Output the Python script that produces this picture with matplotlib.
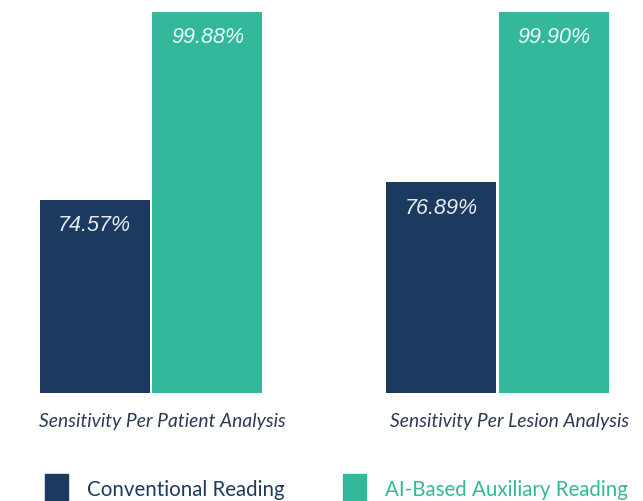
import numpy as np
import matplotlib.pyplot as plt
from matplotlib.patches import Rectangle

# data
categories = ['Sensitivity Per Patient Analysis', 'Sensitivity Per Lesion Analysis']
conventional = [74.57, 76.89]
ai_based = [99.88, 99.90]
series_names = ['Conventional Reading', 'AI-Based Auxiliary Reading']

navy = '#1c3a5f'
teal = '#34b89b'
label_col = '#2b3a55'

plt.rcParams['font.family'] = ['Lato', 'DejaVu Sans']

fig = plt.figure(figsize=(6.43, 5.02), dpi=100)
ax = fig.add_axes([0, 1 - 394 / 502, 1, 394 / 502])

x = np.arange(len(categories))
w = 0.318
off = 0.1625
b1 = ax.bar(x - off, conventional, w, color=navy)
b2 = ax.bar(x + off, ai_based, w, color=teal)

ax.set_xlim(-0.436, 1.42)
ax.set_ylim(48.5, 101.6)

for bars in (b1, b2):
    for r in bars:
        v = r.get_height()
        ax.annotate(f'{v:.2f}%', (r.get_x() + r.get_width() / 2, v),
                    xytext=(0, -18), textcoords='offset points',
                    ha='center', va='center', color='white',
                    fontsize=15.5, style='italic', alpha=0.9,
                    family=['Liberation Sans', 'DejaVu Sans'])

for s in ax.spines.values():
    s.set_visible(False)
ax.set_xticks([])
ax.set_yticks([])

# category labels (sit a bit right of the group centre in the original)
for xi, c in zip(x, categories):
    ax.annotate(c, (xi, 48.5), xytext=(8.5, -20), textcoords='offset points',
                ha='center', va='center', fontsize=13.9, style='italic',
                color=label_col)

# legend
fig.patches.append(Rectangle((45 / 643, 0), 23 / 643, 27 / 502,
                             transform=fig.transFigure, color=navy))
fig.patches.append(Rectangle((343 / 643, 0), 23 / 643, 27 / 502,
                             transform=fig.transFigure, color=teal))
fig.text(87 / 643, 1 - 490 / 502, series_names[0], fontsize=14.8,
         color=navy, va='center', ha='left')
fig.text(385 / 643, 1 - 490 / 502, series_names[1], fontsize=14.8,
         color=teal, va='center', ha='left')

fig.savefig('out.png', dpi=100)
